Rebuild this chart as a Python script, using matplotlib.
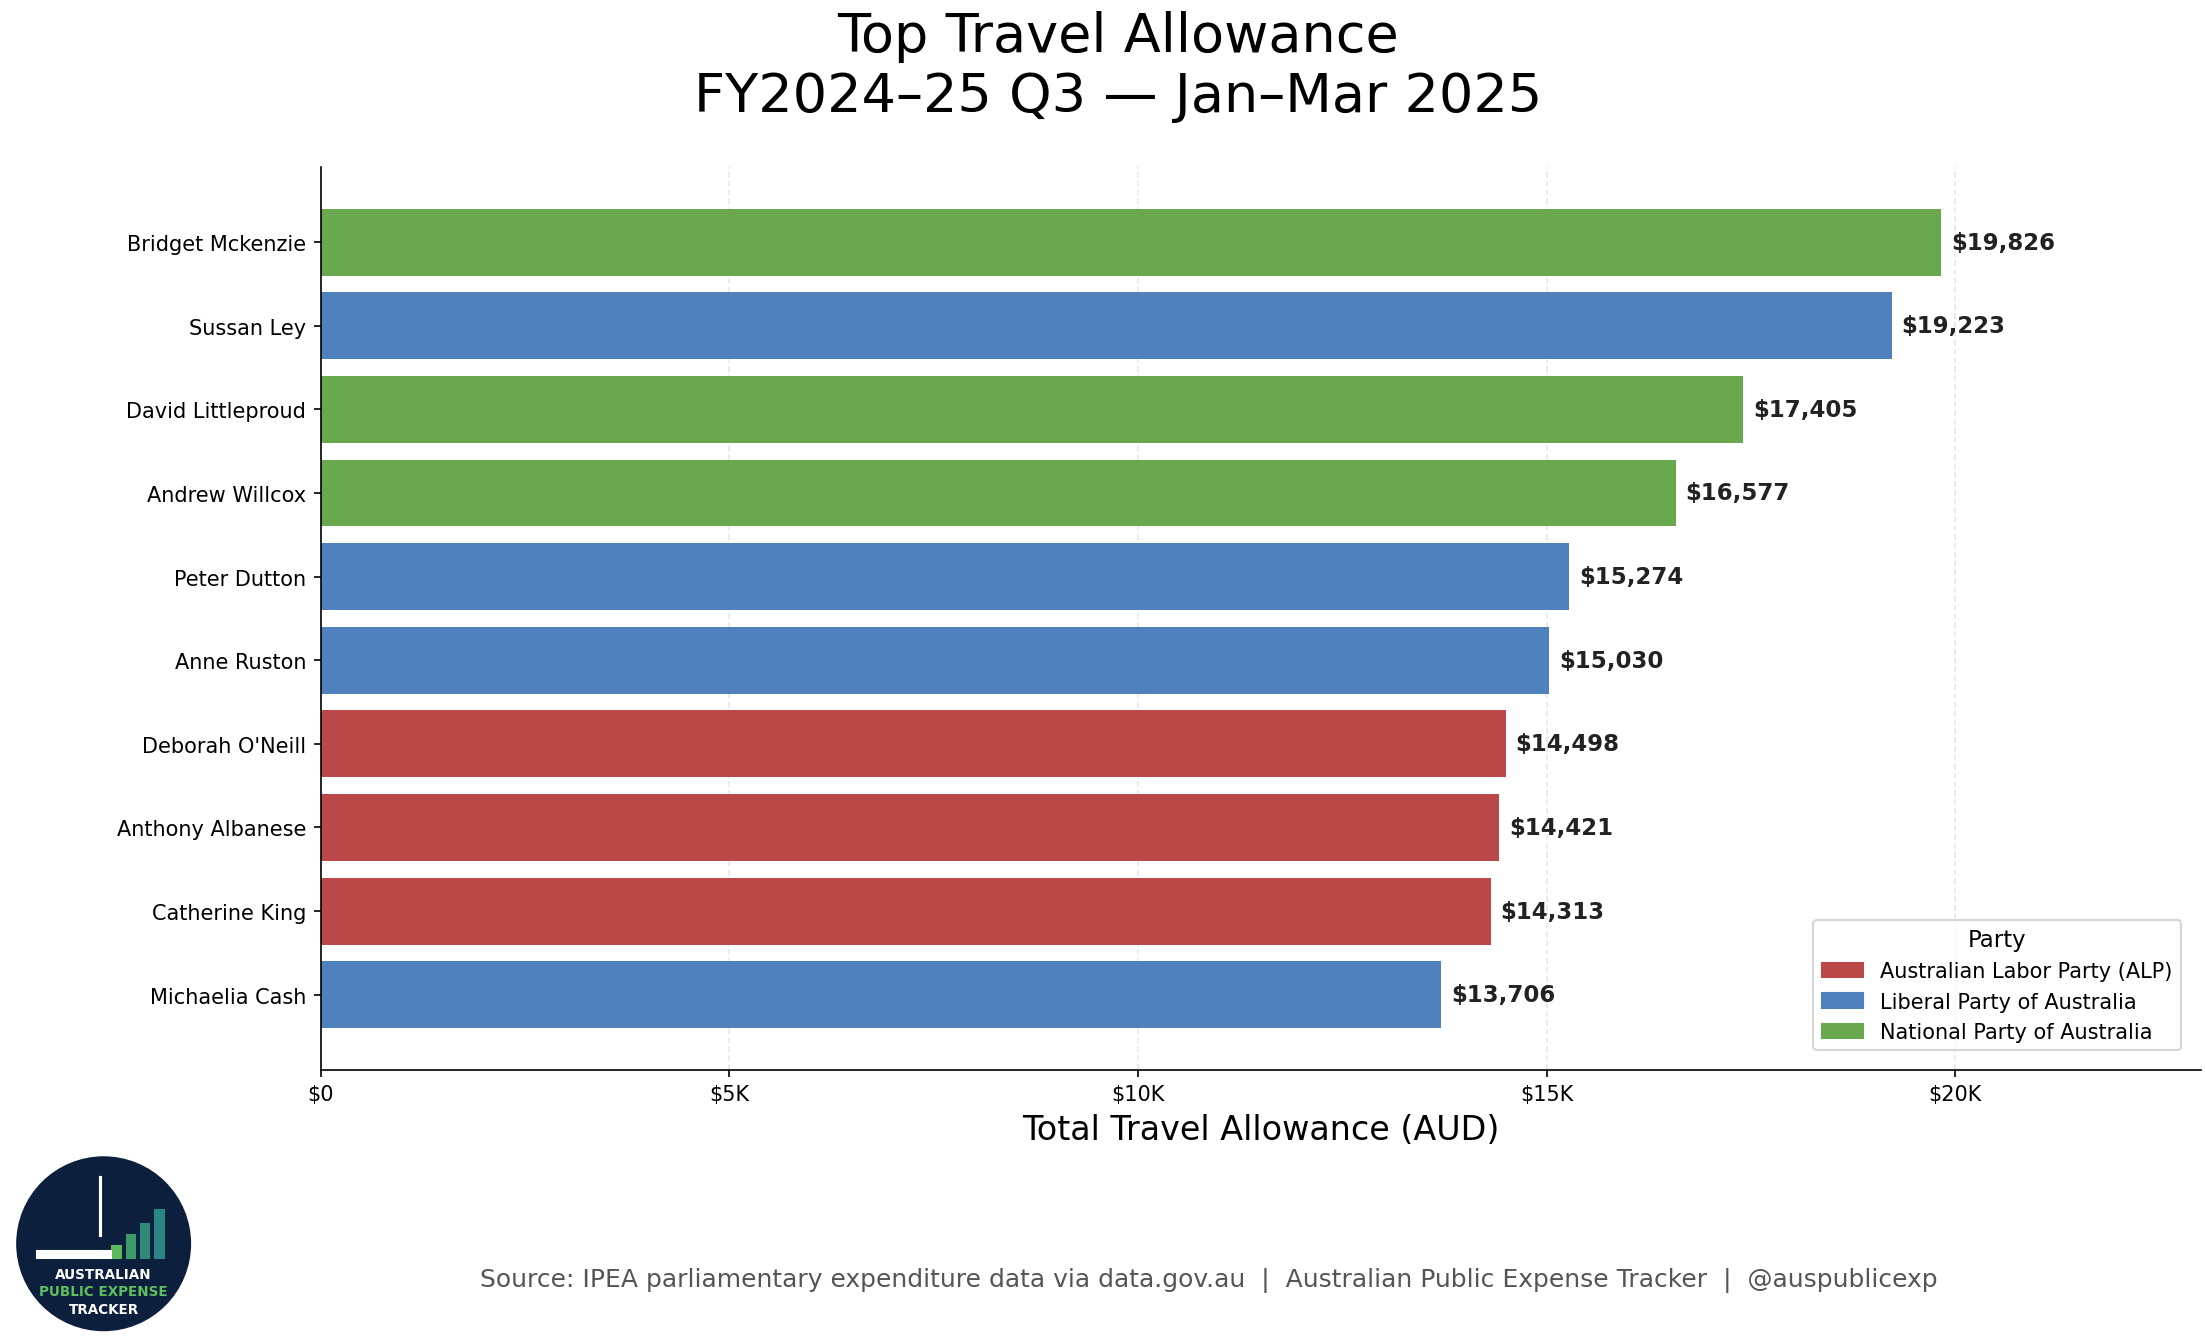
import matplotlib.pyplot as plt
from matplotlib.patches import Circle, Rectangle, Patch

names = ['Bridget Mckenzie', 'Sussan Ley', 'David Littleproud', 'Andrew Willcox', 'Peter Dutton',
         'Anne Ruston', "Deborah O'Neill", 'Anthony Albanese', 'Catherine King', 'Michaelia Cash']
values = [19826, 19223, 17405, 16577, 15274, 15030, 14498, 14421, 14313, 13706]
parties = ['NAT', 'LIB', 'NAT', 'NAT', 'LIB', 'LIB', 'ALP', 'ALP', 'ALP', 'LIB']
party_colors = {'ALP': '#bb4848', 'LIB': '#4f81bd', 'NAT': '#6aa84f'}
party_names = {'ALP': 'Australian Labor Party (ALP)', 'LIB': 'Liberal Party of Australia',
               'NAT': 'National Party of Australia'}
xticks = [0, 5000, 10000, 15000, 20000]
xticklabels = ['$0', '$5K', '$10K', '$15K', '$20K']

fig = plt.figure(figsize=(14.7, 8.913), dpi=150)
ax = fig.add_axes([0.1455, 0.199, 0.8525, 0.6755])

ypos = list(range(len(names)))
ax.barh(ypos, values, color=[party_colors[p] for p in parties], height=0.8, zorder=2)
for y, v in zip(ypos, values):
    ax.text(v + 120, y, f'${v:,}', va='center', ha='left', fontsize=11, fontweight='bold', color='#222222')
ax.set_yticks(ypos)
ax.set_yticklabels(names, fontsize=10)
ax.invert_yaxis()
ax.set_ylim(len(names) - 0.1, -0.9)
ax.set_xlim(0, 23000)
ax.set_xticks(xticks)
ax.set_xticklabels(xticklabels, fontsize=10)
ax.grid(axis='x', linestyle='--', alpha=0.3, zorder=0)
ax.spines['top'].set_visible(False)
ax.spines['right'].set_visible(False)
ax.set_xlabel('Total Travel Allowance (AUD)', fontsize=16)

handles = [Patch(color=party_colors[k], label=party_names[k]) for k in ['ALP', 'LIB', 'NAT']]
ax.legend(handles=handles, title='Party', loc='lower right', fontsize=10, title_fontsize=11,
          bbox_to_anchor=(0.995, 0.01))

fig.text(0.507, 0.992, 'Top Travel Allowance\nFY2024–25 Q3 — Jan–Mar 2025', ha='center', va='top',
         fontsize=26, linespacing=1.2)
fig.text(0.548, 0.042, 'Source: IPEA parliamentary expenditure data via data.gov.au  |  Australian Public Expense Tracker  |  @auspublicexp',
         ha='center', va='center', fontsize=12, color='#555555')

# logo
lax = fig.add_axes([0.007, 0.003, 0.08, 0.132])
lax.set_xlim(0, 1); lax.set_ylim(0, 1); lax.set_aspect('equal'); lax.axis('off')
lax.add_patch(Circle((0.5, 0.5), 0.49, color='#0c1f3d'))
for i, (h, c) in enumerate(zip([0.07, 0.13, 0.19, 0.27], ['#5cb85c', '#3f9a6a', '#2f8a7a', '#2a8585'])):
    lax.add_patch(Rectangle((0.55 + i * 0.08, 0.42), 0.05, h, color=c))
lax.add_patch(Rectangle((0.12, 0.42), 0.42, 0.04, color='white'))
lax.plot([0.48, 0.48], [0.55, 0.88], color='white', lw=1.5)
lax.text(0.5, 0.33, 'AUSTRALIAN', ha='center', va='center', color='white', fontsize=6.5, fontweight='bold')
lax.text(0.5, 0.23, 'PUBLIC EXPENSE', ha='center', va='center', color='#5cc060', fontsize=6.5, fontweight='bold')
lax.text(0.5, 0.13, 'TRACKER', ha='center', va='center', color='white', fontsize=6.5, fontweight='bold')

fig.savefig('out.png')
